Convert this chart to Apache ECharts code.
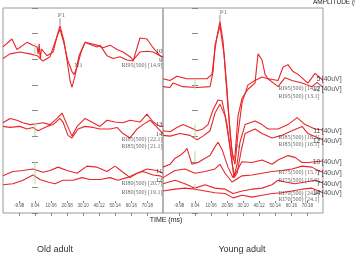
<!DOCTYPE html>
<html><head><meta charset="utf-8">
<script src="https://cdn.jsdelivr.net/npm/echarts@6.0.0/dist/echarts.min.js"></script>
<style>html,body{margin:0;padding:0;background:#fff}#c{width:355px;height:263px}</style>
</head><body><div id="c"></div>
<script>
// time axis tick labels (ms)
const timeTicks = [-9.98, 0.04, 10.06, 20.08, 30.10, 40.12, 50.14, 60.16, 70.18];

// ---- Old adult traces: [time ms, stacked amplitude (0.1 division units)]
const old95a = [[-20,64.8],[-14.4,67.9],[-11.3,63.8],[-5,66.6],[-1.3,65.5],[1.3,64.8],[2,62],[2.6,66],[3.3,60],[4,64],[5,63.8],[7.5,61.4],[11.3,62.8],[13.8,69.0],[15.6,73.1],[18.1,67.2],[20,59.7],[21.9,51.7],[23.1,49.0],[25,53.4],[27.5,61.4],[31.3,66.6],[35.6,65.5],[38.8,64.8],[40.6,65.5],[45,61.4],[48.8,60.3],[53.1,61.0],[57.5,59.7],[61.3,59.3],[65.6,68.3],[70,67.9],[73.8,64.5],[78.1,61.4],[80,61.0]];
const old95b = [[-20,60.3],[-15.6,62.1],[-9.4,62.8],[-3.1,62.1],[1.3,61.4],[5,59.3],[9.4,61.0],[13.8,69.0],[15.6,71.7],[18.1,66.2],[20.6,59.3],[23.1,55.2],[24.4,54.1],[26.3,56.9],[28.8,62.8],[31.3,66.6],[38.8,65.5],[42.5,64.5],[46.9,65.5],[51.3,63.8],[55,62.8],[59.4,61.0],[61.3,59.7],[65.6,62.8],[70,63.1],[73.8,62.8],[78.1,61.4],[80,60.7]];
const old85a = [[-20,35.2],[-15.6,36.9],[-11.3,36.2],[-7.5,35.2],[-3.1,34.5],[1.3,34.8],[5,35.2],[9.4,34.5],[13.8,36.9],[16.9,39.0],[20,34.5],[23.1,30.0],[26.3,33.8],[31.3,36.9],[36.3,35.2],[40.6,33.8],[45,36.2],[50,35.5],[55,35.2],[59.4,36.2],[65.6,35.5],[70,38.6],[73.8,35.5],[78.1,33.8],[80,33.8]];
const old85b = [[-20,33.8],[-15.6,33.4],[-9.4,33.8],[-5,32.8],[-1.3,33.4],[1.9,32.1],[7.5,33.8],[11.3,34.5],[15.6,36.9],[17.5,35.5],[20.6,30.3],[23.1,29.3],[26.9,32.8],[31.3,33.8],[36.3,33.4],[40.6,32.8],[46.9,32.8],[51.3,33.4],[55,31.0],[59.4,29.3],[63.8,32.8],[67.5,34.5],[71.9,36.2],[76.3,33.4],[80,31.0]];
const old80a = [[-20,14.5],[-13.8,16.2],[-7.5,16.6],[-1.3,17.2],[5,15.9],[9.4,16.6],[14.4,17.9],[20,16.6],[26.3,15.5],[32.5,18.3],[38.8,17.9],[45,16.2],[50,18.3],[54.4,16.2],[59.4,13.8],[63.8,15.5],[70,17.2],[76.3,16.6],[80,15.5]];
const old80b = [[-20,11.0],[-13.8,11.4],[-7.5,12.8],[-1.3,14.8],[3.1,13.1],[8.1,12.1],[12.5,11.4],[17.5,12.8],[23.8,12.8],[29.4,13.8],[34.4,13.1],[40.6,13.1],[46.9,13.8],[51.9,12.8],[57.5,13.8],[63.8,15.5],[67.5,16.2],[73.8,14.8],[78.1,14.5],[80,13.8]];

// ---- Young adult traces
const young95a = [[-20,52.4],[-15.6,51.7],[-11.3,53.4],[-5,52.4],[1.3,52.4],[7.5,52.4],[10.6,54.1],[12.5,63.8],[13.8,69.0],[15.6,74.8],[17.5,67.2],[20,48.3],[21.9,31.0],[23.8,20.7],[25,22.4],[26.9,37.9],[29.4,44.8],[33.1,48.3],[37.5,50.7],[39.4,62.1],[41.9,59.7],[43.8,54.1],[45.6,52.4],[51.9,51.7],[55,56.9],[58.1,57.9],[61.3,55.2],[64.4,54.1],[70.6,50.7],[75,54.5],[78.1,52.8],[80,51.7]];
const young95b = [[-20,49.3],[-15.6,49.0],[-13.8,50.7],[-7.5,49.3],[1.3,49.0],[9.4,49.3],[11.3,55.2],[12.5,65.5],[15.6,73.1],[18.1,62.1],[20.6,41.4],[23.1,24.1],[25,19.0],[26.9,31.0],[29.4,43.1],[33.1,50.0],[37.5,51.7],[41.9,53.1],[45.6,52.4],[51.9,49.3],[56.3,52.8],[60.6,51.7],[66.9,50.7],[73.1,49.3],[76.3,51.0],[80,49.0]];
const young85a = [[-20,32.1],[-15.6,31.7],[-11.3,33.4],[-7.5,34.5],[-3.1,33.4],[1.3,32.1],[5,32.8],[8.1,34.5],[11.3,40.3],[14.4,44.1],[16.9,43.8],[20,34.5],[22.5,22.4],[24.4,14.5],[26.3,19.0],[28.1,27.6],[31.3,34.5],[37.5,35.9],[41.9,34.5],[45.6,32.8],[51.9,32.8],[58.1,34.5],[63.8,37.2],[68.8,34.5],[75,32.8],[80,32.4]];
const young85b = [[-20,30.3],[-15.6,30.0],[-9.4,31.0],[-3.1,30.3],[1.3,28.6],[5,30.0],[9.4,32.1],[12.5,39.0],[15.6,42.4],[18.8,37.9],[21.9,25.9],[24.4,13.8],[26.3,15.5],[28.8,24.1],[31.3,31.0],[37.5,32.8],[41.9,31.0],[48.1,29.3],[54.4,30.3],[60.6,32.1],[66.9,33.8],[70.6,31.0],[76.9,29.3],[80,28.6]];
const young75a = [[-20,17.9],[-15.6,19.0],[-12.5,21.4],[-9.4,22.4],[-6.3,24.1],[-5,25.2],[-3.1,21.4],[-1.9,19.0],[1.9,19.7],[6.3,21.4],[9.4,22.4],[12.5,25.9],[14.4,27.6],[16.9,24.8],[20.6,17.9],[23.8,13.8],[26.3,16.6],[29.4,20.0],[35.6,19.7],[41.9,20.7],[48.1,19.0],[51.9,20.7],[58.1,22.4],[62.5,21.7],[66.9,19.7],[70.6,19.7],[75,20.0],[80,20.3]];
const young75b = [[-20,13.8],[-12.5,16.6],[-6.3,17.2],[0,15.5],[6.3,16.2],[12.5,17.2],[15.6,19.0],[18.8,15.5],[23.1,12.1],[29.4,14.5],[35.6,14.8],[41.9,15.5],[48.1,16.2],[54.4,16.6],[60.6,17.2],[66.9,18.3],[73.1,17.9],[76.9,16.6],[80,15.9]];
const young70a = [[-20,11.4],[-12.5,12.8],[-6.3,11.4],[0,9.7],[6.3,11.0],[12.5,9.7],[18.8,9.3],[23.8,7.6],[29.4,8.6],[35.6,9.3],[41.9,9.7],[48.1,11.0],[51.9,12.8],[56.3,12.1],[62.5,11.4],[68.8,12.1],[75,12.8],[80,11.7]];
const young70b = [[-20,8.6],[-12.5,9.3],[-6.3,9.7],[0,9.3],[6.3,8.6],[12.5,7.9],[18.8,7.6],[23.8,5.9],[29.4,6.9],[35.6,6.2],[41.9,6.9],[48.1,7.6],[54.4,7.9],[60.6,8.6],[66.9,9.3],[73.1,9.7],[80,7.9]];

// stimulus-onset markers (t = 0): [t, from, to]
const oldOnset = [[0,61.4,66.2],[0,30.0,35.2],[0,11.4,20.0]];
const youngOnset = [[0,48.3,52.4],[0,28.6,34.5],[0,19.7,24.1],[0,8.6,11.4]];

// annotations
const oldNums = [[80,63.1,'10'],[80,59.7,'9'],[80,34.5,'13'],[80,30.7,'14'],[80,16.2,'11'],[80,12.8,'12']];
const oldRI = [[80,57.6,'RI95(500) [14.9]'],[80,28.6,'RI85(500) [22.1]'],[80,25.9,'RI85(500) [21.1]'],[80,11.4,'RI80(500) [20.7]'],[80,7.9,'RI80(500) [19.1]']];
const youngNums = [[78.75,52.4,'5'],[78.75,48.3,'12'],[78.75,32.1,'11'],[78.75,27.9,'12'],[78.75,19.7,'10'],[78.75,15.5,'7'],[78.75,11.4,'7'],[78.75,7.6,'14']];
const youngRI = [[78.1,48.6,'RI95(500) [14.2]'],[78.1,45.5,'RI95(500) [13.1]'],[78.1,29.3,'RI85(500) [16.2]'],[78.1,26.6,'RI85(500) [16.1]'],[78.1,15.9,'RI75(500) [15.7]'],[78.1,12.8,'RI75(500) [15.9]'],[78.1,7.6,'RI70(500) [24.4]'],[78.1,5.2,'RI70(500) [24.1]']];
const oldPeaks = [[16.6,77.2,'P1'],[27.2,57.6,'N1']];
const youngPeaks = [[17.8,78.3,'P1'],[26.6,25.9,'N']];
const oldPeakTicks = [[15.6,73.4,76.0]];
const youngPeakTicks = [[15.6,75.0,77.4]];

const RED = '#e8262a';
const chart = echarts.init(document.getElementById('c'), null, {renderer:'canvas'});

const grids = [
  {left:3, top:8, width:160, height:205, show:true, borderColor:'#9a9a9a', borderWidth:1, backgroundColor:'transparent'},
  {left:163, top:8, width:160, height:205, show:true, borderColor:'#9a9a9a', borderWidth:1, backgroundColor:'transparent'}
];
const xAxes = [], yAxes = [];
[0,1].forEach(gi => {
  xAxes.push({gridIndex:gi, type:'value', min:-20, max:80, position:'bottom', offset:-12,
    axisLine:{show:false}, splitLine:{show:false},
    axisTick:{show:true, customValues:timeTicks, length:2, lineStyle:{color:'#777'}},
    axisLabel:{show:true, customValues:timeTicks, formatter:v=>v.toFixed(2), fontSize:4.5, color:'#555', margin:2, fontFamily:'Liberation Sans'}});
  xAxes.push({gridIndex:gi, type:'value', min:-20, max:80, position:'top',
    axisLine:{show:false}, splitLine:{show:false}, axisLabel:{show:false},
    axisTick:{show:true, inside:true, customValues:timeTicks, length:3, lineStyle:{color:'#888'}}});
  ['left','right'].forEach(pos => yAxes.push({gridIndex:gi, type:'value', min:0, max:80, interval:10, position:pos,
    axisLine:{show:false}, splitLine:{show:false}, axisLabel:{show:false},
    axisTick:{show:true, inside:true, length:3, lineStyle:{color:'#888'}}}));
});

const series = [];
function line(data, gi, color, width, z) {
  series.push({type:'line', xAxisIndex:gi*2, yAxisIndex:gi*2, data, symbol:'none', showSymbol:false,
    lineStyle:{color, width}, animation:false, silent:true, z:z||2});
}
function texts(arr, gi, pos, size, family, color, weight) {
  series.push({type:'scatter', xAxisIndex:gi*2, yAxisIndex:gi*2, symbolSize:1,
    itemStyle:{color:'rgba(0,0,0,0)'}, silent:true, animation:false, z:6,
    data: arr.map(d => ({value:[d[0], d[1]], name:d[2]})),
    label:{show:true, formatter:'{b}', position:pos, distance:0, fontSize:size, fontFamily:family, color, fontWeight:weight||'normal'}});
}
[old95a, old95b, old85a, old85b, old80a, old80b].forEach(d => line(d, 0, RED, 1.1));
[young95a, young95b, young85a, young85b, young75a, young75b, young70a, young70b].forEach(d => line(d, 1, RED, 1.1));
oldOnset.forEach(o => line([[o[0],o[1]],[o[0],o[2]]], 0, '#a9d8a0', 1, 3));
youngOnset.forEach(o => line([[o[0],o[1]],[o[0],o[2]]], 1, '#a9d8a0', 1, 3));
oldPeakTicks.forEach(o => line([[o[0],o[1]],[o[0],o[2]]], 0, '#777', 0.8, 3));
youngPeakTicks.forEach(o => line([[o[0],o[1]],[o[0],o[2]]], 1, '#777', 0.8, 3));

texts(oldRI, 0, 'left', 6, 'Liberation Serif', '#444');
texts(youngRI, 1, 'left', 6, 'Liberation Serif', '#444');
texts(oldNums, 0, 'left', 7, 'Liberation Serif', '#222');
texts(youngNums, 1, 'left', 7, 'Liberation Sans', '#222');
texts(youngNums.map(d => [d[0], d[1], '[40uV]']), 1, 'right', 7, 'Liberation Sans', '#222');
texts(oldPeaks, 0, 'inside', 7, 'Liberation Serif', '#555');
texts(youngPeaks, 1, 'inside', 7, 'Liberation Serif', '#555');

chart.setOption({
  animation:false,
  backgroundColor:'#fff',
  grid:grids, xAxis:xAxes, yAxis:yAxes, series,
  graphic:[
    {type:'text', left:313, top:-1, style:{text:'AMPLITUDE (uV)', fontSize:6.5, fontFamily:'Liberation Sans', fill:'#222'}},
    {type:'text', x:166, y:220, style:{text:'TIME (ms)', fontSize:7, fontFamily:'Liberation Sans', fill:'#222', textAlign:'center', textVerticalAlign:'middle'}},
    {type:'text', x:55, y:250, style:{text:'Old adult', fontSize:9, fontFamily:'Liberation Sans', fill:'#333', textAlign:'center', textVerticalAlign:'middle'}},
    {type:'text', x:242, y:250, style:{text:'Young adult', fontSize:9, fontFamily:'Liberation Sans', fill:'#333', textAlign:'center', textVerticalAlign:'middle'}}
  ]
});
</script></body></html>
